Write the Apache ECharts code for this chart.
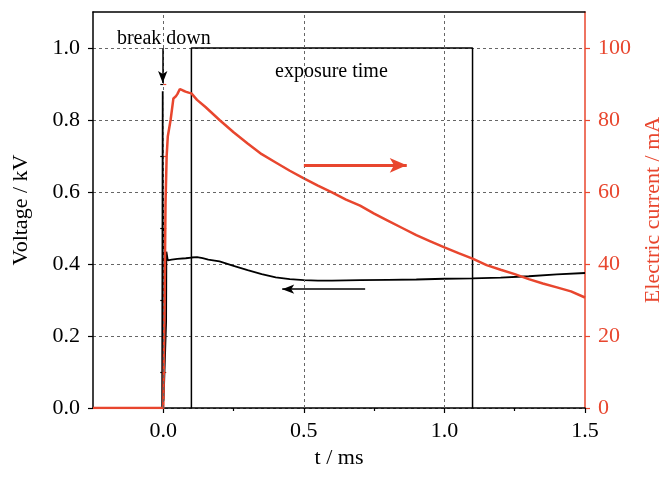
<!DOCTYPE html>
<html>
<head>
<meta charset="utf-8">
<script src="https://cdn.jsdelivr.net/npm/echarts@6/dist/echarts.min.js"></script>
<style>html,body{margin:0;padding:0;background:#fff;}#c{width:662px;height:481px;}</style>
</head>
<body>
<div id="c"></div>
<script>
// ---- data ----
const tVolt = [-0.25, -0.004, -0.002, 0.001, 0.010, 0.011, 0.016, 0.03, 0.05, 0.08, 0.10, 0.12, 0.14, 0.16, 0.20, 0.25, 0.30, 0.35, 0.40, 0.45, 0.50, 0.55, 0.60, 0.70, 0.80, 0.90, 1.00, 1.10, 1.20, 1.30, 1.40, 1.50];
const volt  = [0, 0, 0.88, 0.02, 0.24, 0.434, 0.41, 0.412, 0.414, 0.416, 0.418, 0.419, 0.416, 0.412, 0.407, 0.395, 0.383, 0.372, 0.363, 0.358, 0.355, 0.354, 0.354, 0.355, 0.356, 0.357, 0.359, 0.360, 0.362, 0.366, 0.371, 0.375];

const tCur = [-0.25, 0.0, 0.004, 0.008, 0.012, 0.016, 0.026, 0.036, 0.044, 0.05, 0.059, 0.07, 0.079, 0.09, 0.10, 0.12, 0.15, 0.20, 0.25, 0.30, 0.35, 0.40, 0.45, 0.50, 0.55, 0.60, 0.65, 0.70, 0.75, 0.80, 0.85, 0.90, 0.95, 1.00, 1.05, 1.10, 1.15, 1.20, 1.25, 1.30, 1.35, 1.40, 1.45, 1.50];
const cur  = [0, 0, 25, 57, 70, 75.4, 80, 86, 86.5, 87.2, 88.6, 88.2, 87.9, 87.6, 87.4, 85.6, 83.6, 80.0, 76.6, 73.5, 70.5, 68.2, 65.9, 63.8, 61.8, 59.9, 57.9, 56.2, 54.0, 52.0, 50.0, 48.0, 46.3, 44.6, 43.0, 41.5, 39.7, 38.4, 37.2, 35.8, 34.6, 33.5, 32.4, 30.7];

// exposure window (ms, kV)
const expT = [0.1, 0.1, 1.1, 1.1];
const expV = [0, 1.0, 1.0, 0];

// ticks
const xTicks = [0, 0.5, 1.0, 1.5];
const xMinor = [0.25, 0.75, 1.25];
const xGrid = [0, 0.5, 1.0];
const vTicks = [0, 0.2, 0.4, 0.6, 0.8, 1.0];
const vMinor = [0.1, 0.3, 0.5, 0.7, 0.9];
const cTicks = [0, 20, 40, 60, 80, 100];
const cMinor = [10, 30, 50, 70, 90];

// annotations
const breakArrow = [[-0.002, 1.0], [-0.002, 0.903]];
const voltArrow = [[0.718, 0.33], [0.423, 0.33]];
const curArrow = [[0.5, 67.4], [0.866, 67.4]];
const breakText = [0.002, 1.025];
const expText = [0.598, 0.935];

// ---- chart ----
const FONT = 'Liberation Serif';
const RED = '#e8462e';
const GRIDC = '#666';
const zip = (a, b) => a.map((v, i) => [v, b[i]]);

const chart = echarts.init(document.getElementById('c'), null, {renderer: 'canvas'});

chart.setOption({
  animation: false,
  backgroundColor: '#fff',
  grid: {left: 93, right: 77, top: 12, bottom: 73, containLabel: false, outerBoundsMode: 'none'},
  xAxis: [
    {
      type: 'value', min: -0.25, max: 1.5, position: 'bottom',
      name: 't / ms', nameLocation: 'middle', nameGap: 39,
      nameTextStyle: {fontFamily: FONT, fontSize: 22, color: '#000'},
      axisLine: {show: true, onZero: false, lineStyle: {color: '#000', width: 1.5}},
      axisTick: {show: true, customValues: xTicks, length: 5, lineStyle: {color: '#000', width: 1.2}},
      axisLabel: {customValues: xTicks, formatter: v => v.toFixed(1), fontFamily: FONT, fontSize: 22, color: '#000', margin: 12},
      splitLine: {show: false}
    },
    {
      type: 'value', min: -0.25, max: 1.5, position: 'bottom',
      axisLine: {show: false}, splitLine: {show: false}, axisLabel: {show: false},
      axisTick: {show: true, customValues: xMinor, length: 3, lineStyle: {color: '#000', width: 1.2}}
    },
    {
      type: 'value', min: -0.25, max: 1.5, position: 'top',
      axisLine: {show: true, onZero: false, lineStyle: {color: '#000', width: 1.5}},
      axisTick: {show: false}, axisLabel: {show: false}, splitLine: {show: false}
    }
  ],
  yAxis: [
    {
      type: 'value', min: 0, max: 1.1, interval: 0.2, position: 'left',
      name: 'Voltage / kV', nameLocation: 'middle', nameGap: 61, nameRotate: 90,
      nameTextStyle: {fontFamily: FONT, fontSize: 22, color: '#000'},
      axisLine: {show: true, onZero: false, lineStyle: {color: '#000', width: 1.5}},
      axisTick: {show: true, customValues: vTicks, length: 5, lineStyle: {color: '#000', width: 1.2}},
      axisLabel: {customValues: vTicks, formatter: v => v.toFixed(1), fontFamily: FONT, fontSize: 22, color: '#000', margin: 13},
      splitLine: {show: true, lineStyle: {color: GRIDC, type: [3, 3], width: 1}}
    },
    {
      type: 'value', min: 0, max: 110, position: 'right',
      name: 'Electric current / mA', nameLocation: 'middle', nameGap: 55, nameRotate: 90,
      nameTextStyle: {fontFamily: FONT, fontSize: 22, color: RED},
      axisLine: {show: true, onZero: false, lineStyle: {color: RED, width: 1.5}},
      axisTick: {show: true, customValues: cTicks, length: 5, lineStyle: {color: RED, width: 1.2}},
      axisLabel: {customValues: cTicks, formatter: v => String(v), fontFamily: FONT, fontSize: 22, color: RED, margin: 13},
      splitLine: {show: false}
    },
    {
      type: 'value', min: 0, max: 1.1, position: 'left',
      axisLine: {show: false}, splitLine: {show: false}, axisLabel: {show: false},
      axisTick: {show: true, customValues: vMinor, length: 3, lineStyle: {color: '#000', width: 1.2}}
    },
    {
      type: 'value', min: 0, max: 110, position: 'right',
      axisLine: {show: false}, splitLine: {show: false}, axisLabel: {show: false},
      axisTick: {show: true, customValues: cMinor, length: 3, lineStyle: {color: RED, width: 1.2}}
    }
  ],
  series: [
    {
      name: 'exposure', type: 'line', xAxisIndex: 0, yAxisIndex: 0,
      data: zip(expT, expV), symbol: 'none', silent: true, z: 2,
      lineStyle: {color: '#000', width: 1.5},
      markLine: {
        silent: true, symbol: 'none', label: {show: false},
        lineStyle: {color: GRIDC, type: [3, 3], width: 1},
        emphasis: {disabled: true},
        data: xGrid.map(v => ({xAxis: v}))
      }
    },
    {
      name: 'Voltage', type: 'line', xAxisIndex: 0, yAxisIndex: 0,
      data: zip(tVolt, volt), symbol: 'none', silent: true, z: 3,
      lineStyle: {color: '#000', width: 1.8},
      markLine: {
        silent: true, symbol: ['none', 'arrow'], symbolSize: [7, 12],
        label: {show: false}, emphasis: {disabled: true},
        lineStyle: {color: '#000', type: 'solid', width: 1.5},
        data: [
          [{coord: breakArrow[0]}, {coord: breakArrow[1]}],
          [{coord: voltArrow[0]}, {coord: voltArrow[1]}]
        ]
      },
      markPoint: {
        silent: true, symbol: 'circle', symbolSize: 0,
        label: {show: true, position: 'inside', fontFamily: FONT, fontSize: 20, color: '#000'},
        data: [
          {coord: breakText, value: 'break down', label: {formatter: 'break down'}},
          {coord: expText, value: 'exposure time', label: {formatter: 'exposure time'}}
        ]
      }
    },
    {
      name: 'Current', type: 'line', xAxisIndex: 0, yAxisIndex: 1,
      data: zip(tCur, cur), symbol: 'none', silent: true, z: 4,
      lineStyle: {color: RED, width: 2.5},
      markLine: {
        silent: true, symbol: ['none', 'arrow'], symbolSize: [11, 17],
        label: {show: false}, emphasis: {disabled: true},
        lineStyle: {color: RED, type: 'solid', width: 3},
        data: [[{coord: curArrow[0]}, {coord: curArrow[1]}]]
      }
    }
  ]
});
</script>
</body>
</html>
